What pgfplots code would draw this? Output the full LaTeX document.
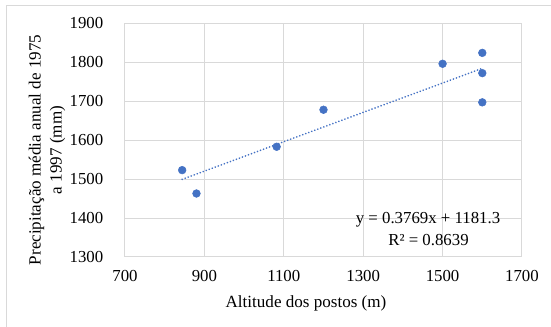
\documentclass[border=0pt]{standalone}
\usepackage{fontspec}
\setmainfont{Liberation Serif}
\usepackage{pgfplots}
\pgfplotsset{compat=1.18}
\definecolor{mblue}{HTML}{4472C4}
\definecolor{gridc}{HTML}{D9D9D9}
\begin{document}
\fontsize{12.4}{15}\selectfont
\begin{tikzpicture}[x=0.75pt,y=0.75pt]
\useasboundingbox (0,0) rectangle (551,327);
\draw[gridc, line width=0.75pt] (6,0) -- (6,321.3) -- (551,321.3);
\begin{axis}[
  at={(93.75pt,52.5pt)}, anchor=south west,
  scale only axis, width=297.75pt, height=175.3pt,
  xmin=700, xmax=1700, ymin=1300, ymax=1900,
  xtick={700,900,...,1700}, ytick={1300,1400,...,1900},
  grid=major, major grid style={gridc, line width=0.75pt},
  axis line style={gridc, line width=0.75pt},
  tick style={draw=none},
  /pgf/number format/assume math mode=true,
  /pgf/number format/set thousands separator={},
  ticklabel style={font=\fontsize{12.6}{15}\selectfont},
  yticklabel style={xshift=-12pt},
  xticklabel style={yshift=-6pt},
  clip=false,
]
\addplot[only marks, mark=*, mark size=2.9pt, mblue, mark options={draw=mblue, fill=mblue}] coordinates {
(844,1523) (880,1463) (1082,1583) (1200,1678) (1500,1796) (1600,1824) (1600,1772) (1600,1697)
};
\addplot[mblue, line width=1.4pt, dash pattern=on 0.01pt off 2.4pt, line cap=round] coordinates {
(844,1499.4) (1600,1784.3)
};
\end{axis}
\node[anchor=center, font=\fontsize{12.8}{15}\selectfont] at (306,24) {Altitude dos postos (m)};
\node[rotate=90, align=center, anchor=center, font=\fontsize{12.8}{15.8}\selectfont] at (47,177) {Precipitação média anual de 1975\\a 1997 (mm)};
\node[anchor=center, font=\fontsize{12.6}{15}\selectfont] at (428,107) {y = 0.3769x + 1181.3};
\node[anchor=center, font=\fontsize{12.6}{15}\selectfont] at (428.5,87) {R² = 0.8639};
\end{tikzpicture}
\end{document}
